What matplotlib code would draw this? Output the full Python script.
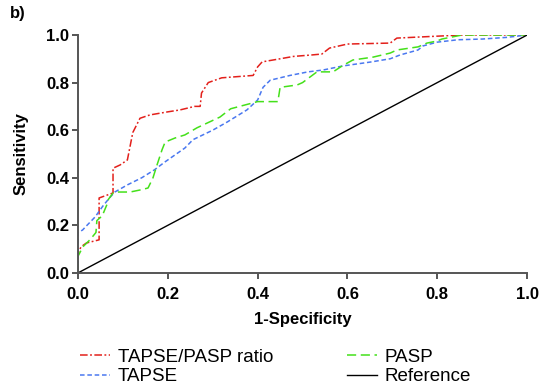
import matplotlib
matplotlib.use("Agg")
import matplotlib.pyplot as plt

plt.rcParams['font.family'] = ['Liberation Sans', 'DejaVu Sans']

# ROC curves (1-specificity, sensitivity)
ratio_x = [0, 0, 0.007, 0.019, 0.047, 0.047, 0.078, 0.078, 0.094, 0.11, 0.122, 0.138, 0.16, 0.2,
           0.227, 0.26, 0.272, 0.275, 0.29, 0.32, 0.39, 0.40, 0.41, 0.45, 0.48, 0.52, 0.543, 0.56,
           0.60, 0.695, 0.71, 0.855, 1.0]
ratio_y = [0, 0.084, 0.11, 0.126, 0.139, 0.315, 0.336, 0.44, 0.454, 0.475, 0.59, 0.65, 0.664, 0.677,
           0.685, 0.70, 0.70, 0.756, 0.80, 0.82, 0.83, 0.866, 0.887, 0.90, 0.91, 0.916, 0.92, 0.945,
           0.962, 0.966, 0.987, 1.0, 1.0]

tapse_x = [0, 0, 0.01, 0.02, 0.038, 0.055, 0.07, 0.082, 0.11, 0.142, 0.17, 0.194, 0.216, 0.238,
           0.256, 0.30, 0.332, 0.376, 0.40, 0.412, 0.428, 0.472, 0.512, 0.546, 0.59, 0.65, 0.695,
           0.717, 0.757, 0.768, 0.80, 0.846, 0.90, 0.955, 1.0]
tapse_y = [0, 0.17, 0.18, 0.20, 0.235, 0.28, 0.315, 0.34, 0.37, 0.40, 0.433, 0.467, 0.496, 0.525,
           0.56, 0.60, 0.634, 0.685, 0.727, 0.78, 0.81, 0.83, 0.845, 0.853, 0.87, 0.886, 0.90,
           0.916, 0.937, 0.954, 0.97, 0.98, 0.983, 0.99, 1.0]

pasp_x = [0, 0, 0.011, 0.027, 0.04, 0.042, 0.054, 0.065, 0.068, 0.078, 0.089, 0.116, 0.142, 0.156,
          0.167, 0.176, 0.187, 0.194, 0.216, 0.238, 0.265, 0.316, 0.34, 0.40, 0.445, 0.45, 0.488,
          0.50, 0.517, 0.532, 0.568, 0.588, 0.612, 0.657, 0.695, 0.71, 0.757, 0.777, 0.80, 0.81,
          0.855, 1.0]
pasp_y = [0, 0.07, 0.11, 0.14, 0.17, 0.22, 0.24, 0.29, 0.31, 0.336, 0.34, 0.34, 0.35, 0.357,
          0.40, 0.454, 0.517, 0.55, 0.567, 0.58, 0.61, 0.655, 0.69, 0.72, 0.72, 0.78, 0.79,
          0.80, 0.824, 0.845, 0.845, 0.87, 0.895, 0.907, 0.924, 0.937, 0.95, 0.966, 0.975, 0.983,
          1.0, 1.0]

ref_x = [0, 1]
ref_y = [0, 1]

ticks = [0.0, 0.2, 0.4, 0.6, 0.8, 1.0]

fig = plt.figure(figsize=(5.39, 3.91), dpi=100)
ax = fig.add_axes([0.1447, 0.302, 0.8333, 0.6085])

l1, = ax.plot(ratio_x, ratio_y, color='#e3201b', lw=1.1, dashes=(5, 1.6, 1.2, 1.6),
              label='TAPSE/PASP ratio')
l2, = ax.plot(tapse_x, tapse_y, color='#4a78f0', lw=1.1, dashes=(3, 1.8), label='TAPSE')
l3, = ax.plot(pasp_x, pasp_y, color='#44e01a', lw=1.1, dashes=(6, 3), label='PASP')
l4, = ax.plot(ref_x, ref_y, color='black', lw=1.0, label='Reference')

ax.set_xlim(0, 1)
ax.set_ylim(0, 1)
ax.set_xticks(ticks)
ax.set_yticks(ticks)
ax.set_xticklabels([f'{t:.1f}' for t in ticks], fontsize=12, fontweight='bold')
ax.set_yticklabels([f'{t:.1f}' for t in ticks], fontsize=12, fontweight='bold')
for s in ['top', 'right']:
    ax.spines[s].set_visible(False)
for s in ['left', 'bottom']:
    ax.spines[s].set_color('#555555')
    ax.spines[s].set_linewidth(1.4)
ax.tick_params(direction='out', length=4.3, width=1.4, color='#555555')
ax.tick_params(axis='x', pad=6)
ax.tick_params(axis='y', pad=2)

ax.set_xlabel('1-Specificity', fontsize=12, fontweight='bold')
ax.set_ylabel('Sensitivity', fontsize=12, fontweight='bold')
ax.xaxis.set_label_coords(0.5, -0.165)
ax.yaxis.set_label_coords(-0.111, 0.5)

fig.text(0.018, 0.965, 'b)', fontsize=12, fontweight='bold', va='center')

fig.legend(handles=[l1, l2, l3, l4], ncol=2, frameon=False, fontsize=13.5,
           loc='upper left', bbox_to_anchor=(0.1345, 0.127), borderaxespad=0,
           handlelength=1.6, columnspacing=3.9, handletextpad=0.43, labelspacing=0.11)

fig.savefig('out.png', dpi=100)
